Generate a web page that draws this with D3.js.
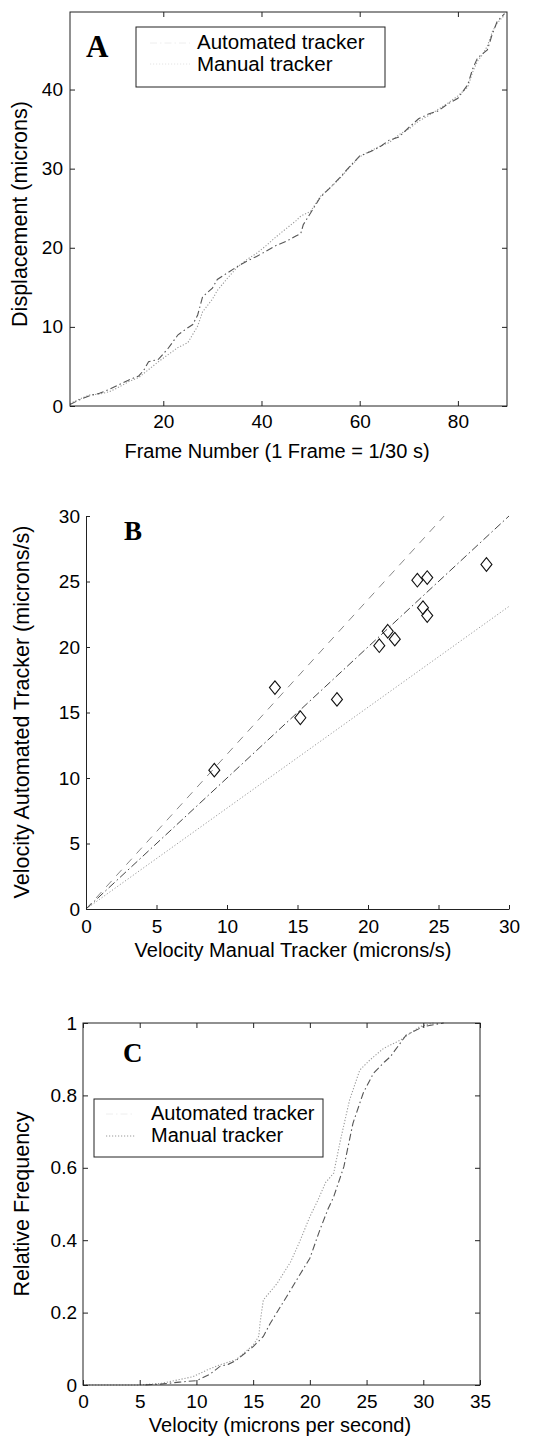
<!DOCTYPE html>
<html><head><meta charset="utf-8">
<script src="https://cdn.jsdelivr.net/npm/d3@7/dist/d3.min.js"></script>
<style>
body{margin:0;background:#fff;}
svg text{font-family:"Liberation Sans",Arial,sans-serif;fill:#000;}
</style></head>
<body>
<svg id="c" width="539" height="1437"></svg>
<script>
// ---------- Panel A data ----------
const framesAuto = [1,3,5,7,9,11,13,15,16,17,19,21,23,25,26,27,28,30,31,33,35,37,39,41,43,45,47,48,48.5,50,52,54,56,58,60,62,64,66,68,70,72,74,76,78,80,82,83,84,86,87,88,89.5];
const dispAuto   = [0.2,0.8,1.3,1.6,2.1,2.7,3.3,3.8,4.5,5.6,5.9,7.3,9.0,9.9,10.3,11.5,13.8,14.9,16.0,16.8,17.6,18.3,18.9,19.6,20.3,20.8,21.5,21.8,22.9,24.4,26.4,27.6,28.9,30.3,31.6,32.1,32.7,33.6,34.0,35.2,36.3,36.9,37.3,38.2,38.9,40.6,42.6,44.0,45.0,47.0,48.6,49.6];
const framesManual = [1,3,5,7,9,11,13,15,17,19,21,23,25,27,28,30,31,33,35,37,39,41,43,45,47,48,50,52,54,56,58,60,62,64,66,68,70,72,74,76,78,80,82,83,84,85,86,87,88,89.5];
const dispManual   = [0.3,0.9,1.4,1.5,1.8,2.4,3.1,3.6,4.6,5.6,6.5,7.4,8.0,10.1,11.9,13.5,14.6,16.1,17.5,18.5,19.3,20.3,21.4,22.4,23.4,24.0,24.6,26.5,27.6,28.8,30.2,31.5,32.2,32.8,33.3,34.3,35.0,36.0,36.7,37.5,38.3,39.2,40.3,42.2,43.6,44.4,45.5,47.3,48.4,49.4];
const ticksAx = [20,40,60,80];
const ticksAy = [0,10,20,30,40];
const legendLabels = ["Automated tracker","Manual tracker"];

// ---------- Panel B data ----------
const velManual = [9.1,13.4,15.2,17.8,20.8,21.4,21.9,23.5,24.2,23.9,24.2,28.4];
const velAuto   = [10.6,16.9,14.6,16.0,20.1,21.2,20.6,25.1,25.3,23.0,22.4,26.3];
const centerX = [0,30],  centerY = [0,30];
const upperX  = [0,25.4], upperY = [0,30];
const lowerX  = [0,30],  lowerY = [0,23.1];
const ticksB = [0,5,10,15,20,25,30];

// ---------- Panel C data ----------
const cdfAutoV = [5.5,7,8.5,10,11.2,12.1,12.8,13.5,15,15.9,16.5,17.4,18.3,19.1,20,20.9,21.6,22.1,23,23.8,24.7,25.6,26.6,27.1,28.5,30,31.2,31.8];
const cdfAutoF = [0,0.003,0.008,0.012,0.03,0.052,0.057,0.068,0.106,0.134,0.17,0.216,0.262,0.304,0.35,0.43,0.486,0.52,0.603,0.723,0.806,0.861,0.893,0.907,0.967,0.99,0.997,1.0];
const cdfManV = [0,5,7,8.5,9.7,10.9,12,13.5,15,15.5,15.6,15.9,17.1,18.3,19.1,20,20.7,21.4,22.1,22.7,23.5,24.4,25.3,26.5,28,29.7,30.9];
const cdfManF = [0,0,0.005,0.015,0.023,0.041,0.055,0.07,0.11,0.135,0.17,0.235,0.28,0.34,0.396,0.465,0.51,0.56,0.585,0.677,0.787,0.87,0.898,0.93,0.953,0.99,1.0];
const ticksCx = [0,5,10,15,20,25,30,35];
const ticksCy = [0,0.2,0.4,0.6,0.8,1];

const svg = d3.select("#c");
const AX = "#222";
const styleAuto = {stroke:"#555", dash:"7,3,1.5,3", w:1.1};
const styleMan  = {stroke:"#999", dash:"1.2,1.8", w:1.1};

function styleAxis(g, fs){
  g.selectAll("path,line").attr("stroke",AX).attr("stroke-width",1);
  g.selectAll("text").attr("font-size",fs).attr("fill","#000").attr("font-family","Liberation Sans, Arial, sans-serif");
}
function boxAxes(x, y, xt, yt, padX, padY, fmtY){
  const [x0,x1] = x.range(), [y0,y1] = y.range();
  const gb = svg.append("g").attr("transform",`translate(0,${y0})`)
    .call(d3.axisBottom(x).tickValues(xt).tickSizeInner(-5).tickSizeOuter(0).tickPadding(padX));
  gb.select(".domain").remove(); styleAxis(gb,19);
  const gl = svg.append("g").attr("transform",`translate(${x0},0)`)
    .call(d3.axisLeft(y).tickValues(yt).tickSizeInner(-5).tickSizeOuter(0).tickPadding(padY).tickFormat(fmtY||d3.format("")));
  gl.select(".domain").remove(); styleAxis(gl,19);
  const gt = svg.append("g").attr("transform",`translate(0,${y1})`)
    .call(d3.axisTop(x).tickValues(xt).tickSizeInner(-5).tickSizeOuter(0).tickFormat(""));
  gt.select(".domain").remove(); styleAxis(gt,19);
  const gr = svg.append("g").attr("transform",`translate(${x1},0)`)
    .call(d3.axisRight(y).tickValues(yt).tickSizeInner(-5).tickSizeOuter(0).tickFormat(""));
  gr.select(".domain").remove(); styleAxis(gr,19);
  svg.append("rect").attr("x",x0).attr("y",y1).attr("width",x1-x0).attr("height",y0-y1)
    .attr("fill","none").attr("stroke",AX).attr("stroke-width",1);
}
function drawLine(xs, ys, x, y, st){
  const pts = xs.map((d,i)=>[d,ys[i]]);
  svg.append("path").datum(pts)
    .attr("d", d3.line().x(d=>x(d[0])).y(d=>y(d[1])))
    .attr("fill","none").attr("stroke",st.stroke).attr("stroke-width",st.w)
    .attr("stroke-dasharray",st.dash);
}
function yLabel(txt, cx, cy, fs){
  svg.append("text").attr("transform",`translate(${cx},${cy}) rotate(-90)`)
    .attr("text-anchor","middle").attr("dominant-baseline","middle").attr("font-size",fs).text(txt);
}
function xLabel(txt, cx, by){
  svg.append("text").attr("x",cx).attr("y",by).attr("text-anchor","middle").attr("font-size",20).text(txt);
}
function panelLetter(t, x, y, fs){
  svg.append("text").attr("x",x).attr("y",y).attr("font-size",fs).attr("font-weight","bold")
    .style("font-family","'Liberation Serif','Times New Roman',serif").text(t);
}

// ================= Panel A =================
const xA = d3.scaleLinear().domain([1,90]).range([70,507]);
const yA = d3.scaleLinear().domain([0,49.8]).range([406,12]);
drawLine(framesManual, dispManual, xA, yA, styleMan);
drawLine(framesAuto, dispAuto, xA, yA, styleAuto);
boxAxes(xA, yA, ticksAx, ticksAy, 8.5, 7);
// legend A
svg.append("rect").attr("x",136).attr("y",27).attr("width",249).attr("height",60)
  .attr("fill","#fff").attr("stroke",AX).attr("stroke-width",1);
legendLabels.forEach((t,i)=>{
  svg.append("text").attr("x",197).attr("y",49+i*21.5).attr("font-size",20.5).text(t);
});
svg.append("line").attr("x1",150).attr("x2",190).attr("y1",43).attr("y2",43)
  .attr("stroke","#eee").attr("stroke-dasharray",styleAuto.dash);
svg.append("line").attr("x1",150).attr("x2",190).attr("y1",64).attr("y2",64)
  .attr("stroke","#e4e4e4").attr("stroke-dasharray",styleMan.dash);
panelLetter("A", 86, 57, 31);
yLabel("Displacement (microns)", 21, 214, 21.5);
xLabel("Frame Number (1 Frame = 1/30 s)", 277, 458);

// ================= Panel B =================
const xB = d3.scaleLinear().domain([0,30]).range([86,509]);
const yB = d3.scaleLinear().domain([0,30]).range([909,516]);
drawLine(lowerX, lowerY, xB, yB, {stroke:"#999", dash:"1.2,2", w:1});
drawLine(upperX, upperY, xB, yB, {stroke:"#888", dash:"8,7", w:1});
drawLine(centerX, centerY, xB, yB, {stroke:"#444", dash:"8,3,1.5,3", w:1});
const gbB = svg.append("g").attr("transform","translate(0,909)")
  .call(d3.axisBottom(xB).tickValues(ticksB).tickSizeInner(-4).tickSizeOuter(0).tickPadding(10.5));
styleAxis(gbB,19);
const glB = svg.append("g").attr("transform","translate(86,0)")
  .call(d3.axisLeft(yB).tickValues(ticksB).tickSizeInner(-4).tickSizeOuter(0).tickPadding(6));
styleAxis(glB,19);
const diamond = {draw(ctx, size){ const w=5.5, h=6.8; ctx.moveTo(0,-h); ctx.lineTo(w,0); ctx.lineTo(0,h); ctx.lineTo(-w,0); ctx.closePath(); }};
svg.append("g").selectAll("path").data(velManual.map((d,i)=>[d,velAuto[i]])).join("path")
  .attr("transform",d=>`translate(${xB(d[0])},${yB(d[1])})`)
  .attr("d", d3.symbol().type(diamond)())
  .attr("fill","none").attr("stroke","#111").attr("stroke-width",1.1);
panelLetter("B", 124, 540, 27);
yLabel("Velocity Automated Tracker (microns/s)", 23, 712, 21.5);
xLabel("Velocity Manual Tracker (microns/s)", 293, 957);

// ================= Panel C =================
const xC = d3.scaleLinear().domain([0,35]).range([83,480]);
const yC = d3.scaleLinear().domain([0,1]).range([1385,1023]);
drawLine(cdfManV, cdfManF, xC, yC, styleMan);
drawLine(cdfAutoV, cdfAutoF, xC, yC, {stroke:"#555", dash:"7,3,1.5,3", w:1.1});
boxAxes(xC, yC, ticksCx, ticksCy, 9.5, 6, d3.format(""));
svg.append("rect").attr("x",94).attr("y",1099).attr("width",229).attr("height",58)
  .attr("fill","#fff").attr("stroke",AX).attr("stroke-width",1);
legendLabels.forEach((t,i)=>{
  svg.append("text").attr("x",151).attr("y",1120+i*21.5).attr("font-size",20).text(t);
});
svg.append("line").attr("x1",106).attr("x2",135).attr("y1",1114).attr("y2",1114)
  .attr("stroke","#eee").attr("stroke-dasharray",styleAuto.dash);
svg.append("line").attr("x1",106).attr("x2",135).attr("y1",1136).attr("y2",1136)
  .attr("stroke","#999").attr("stroke-dasharray",styleMan.dash);
panelLetter("C", 123, 1062, 27);
yLabel("Relative Frequency", 23, 1204, 21.5);
xLabel("Velocity (microns per second)", 280, 1432);
</script>
</body></html>
